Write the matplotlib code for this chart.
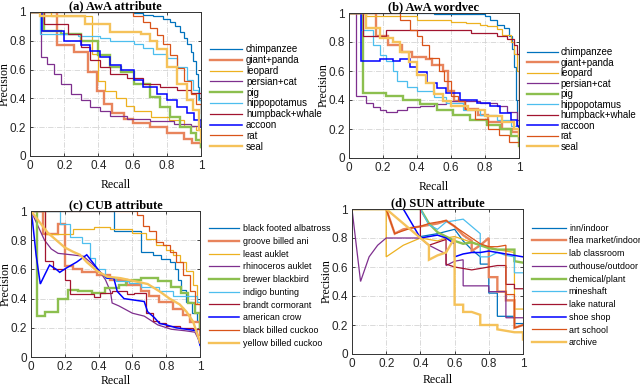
import matplotlib
matplotlib.use("Agg")
import matplotlib.pyplot as plt

plt.rcParams['font.family'] = ['Liberation Sans', 'DejaVu Sans']

# colours (matlab default order, some drawn lighter/thicker)
colors = ['#0072BD', '#E8845C', '#EDB120', '#7E2F8E', '#8CBF4F',
          '#4DBEEE', '#A2142F', '#0000FF', '#D95319', '#F5C25A']
widths = [0.9, 1.7, 0.9, 0.9, 1.7, 0.9, 0.9, 1.1, 0.9, 1.7]

# ---- (a) AwA attribute
a_labels = ['chimpanzee', 'giant+panda', 'leopard', 'persian+cat', 'pig',
            'hippopotamus', 'humpback+whale', 'accoon', 'rat', 'seal']
a_recall = [
    [0, 0.6, 0.66, 0.72, 0.78, 0.82, 0.85, 0.88, 0.9, 0.92, 0.94, 0.955, 0.97, 0.98, 0.99, 1.0],
    [0, 0.16, 0.26, 0.34, 0.39, 0.43, 0.48, 0.55, 0.6, 0.7, 0.8, 0.9, 0.95, 1.0],
    [0, 0.12, 0.36, 0.4, 0.44, 0.5, 0.56, 0.61, 0.71, 0.81, 0.9, 0.97, 1.0],
    [0, 0.064, 0.1, 0.14, 0.18, 0.24, 0.3, 0.35, 0.41, 0.47, 0.57, 0.7, 0.84, 0.94, 1.0],
    [0, 0.08, 0.18, 0.3, 0.4, 0.47, 0.53, 0.61, 0.7, 0.76, 0.82, 0.88, 0.94, 0.97, 1.0],
    [0, 0.06, 0.28, 0.41, 0.47, 0.61, 0.66, 0.72, 0.8, 0.86, 0.92, 0.955, 0.985, 1.0],
    [0, 0.08, 0.22, 0.3, 0.35, 0.41, 0.47, 0.57, 0.66, 0.76, 0.86, 0.94, 1.0],
    [0, 0.07, 0.2, 0.3, 0.35, 0.41, 0.47, 0.53, 0.61, 0.66, 0.74, 0.8, 0.86, 0.92, 0.96, 1.0],
    [0, 0.6, 0.66, 0.7, 0.74, 0.78, 0.82, 0.86, 0.9, 0.94, 0.97, 1.0],
    [0, 0.06, 0.32, 0.47, 0.65, 0.7, 0.74, 0.8, 0.86, 0.92, 0.955, 0.99, 1.0],
]
a_prec = [
    [1, 0.99, 0.98, 0.97, 0.95, 0.93, 0.9, 0.86, 0.82, 0.78, 0.72, 0.66, 0.57, 0.48, 0.39, 0.2],
    [1, 0.77, 0.72, 0.58, 0.45, 0.36, 0.3, 0.26, 0.23, 0.2, 0.16, 0.12, 0.09, 0.06],
    [1, 0.97, 0.71, 0.52, 0.45, 0.4, 0.35, 0.31, 0.27, 0.25, 0.21, 0.18, 0.13],
    [1, 0.69, 0.64, 0.57, 0.5, 0.43, 0.39, 0.34, 0.31, 0.28, 0.26, 0.245, 0.225, 0.21, 0.2],
    [1, 0.87, 0.85, 0.8, 0.7, 0.62, 0.58, 0.5, 0.41, 0.34, 0.27, 0.2, 0.16, 0.11, 0.06],
    [1, 0.85, 0.83, 0.82, 0.8, 0.78, 0.75, 0.71, 0.68, 0.62, 0.53, 0.46, 0.39, 0.22],
    [1, 0.92, 0.85, 0.76, 0.67, 0.62, 0.57, 0.54, 0.5, 0.48, 0.46, 0.44, 0.39],
    [1, 0.87, 0.8, 0.77, 0.73, 0.69, 0.63, 0.6, 0.53, 0.48, 0.43, 0.39, 0.34, 0.3, 0.25, 0.2],
    [1, 0.97, 0.93, 0.89, 0.84, 0.78, 0.7, 0.61, 0.52, 0.43, 0.36, 0.3],
    [1, 0.97, 0.92, 0.86, 0.85, 0.8, 0.74, 0.62, 0.5, 0.39, 0.32, 0.18, 0.1],
]

# ---- (b) AwA wordvec
b_labels = ['chimpanzee', 'giant+panda', 'leopard', 'persian+cat', 'pig',
            'hippopotamus', 'humpback+whale', 'raccoon', 'rat', 'seal']
b_recall = [
    [0, 0.5, 0.8, 0.83, 0.87, 0.91, 0.94, 0.96, 0.97, 0.98, 0.99, 1.0],
    [0, 0.16, 0.23, 0.31, 0.37, 0.45, 0.49, 0.55, 0.58, 0.62, 0.68, 0.76, 0.82, 0.9, 0.96, 1.0],
    [0, 0.1, 0.4, 0.6, 0.69, 0.77, 0.81, 0.87, 0.9, 0.95, 0.97, 0.99, 1.0],
    [0, 0.04, 0.1, 0.14, 0.18, 0.22, 0.28, 0.34, 0.42, 0.5, 0.57, 0.65, 0.77, 0.87, 0.93, 0.99, 1.0],
    [0, 0.08, 0.22, 0.32, 0.42, 0.52, 0.61, 0.71, 0.81, 0.89, 0.95, 1.0],
    [0, 0.07, 0.14, 0.18, 0.22, 0.26, 0.28, 0.34, 0.4, 0.5, 0.57, 0.67, 0.77, 0.87, 0.95, 1.0],
    [0, 0.08, 0.22, 0.72, 0.87, 0.93, 0.97, 0.99, 1.0],
    [0, 0.07, 0.18, 0.26, 0.3, 0.36, 0.4, 0.46, 0.52, 0.57, 0.65, 0.75, 0.83, 0.89, 0.95, 0.99, 1.0],
    [0, 0.3, 0.36, 0.4, 0.43, 0.47, 0.53, 0.56, 0.6, 0.64, 0.68, 0.74, 0.82, 0.88, 0.94, 1.0],
    [0, 0.1, 0.18, 0.26, 0.3, 0.35, 0.4, 0.45, 0.5, 0.55, 0.6, 0.7, 0.8, 0.9, 0.97, 1.0],
]
b_prec = [
    [1, 0.99, 0.98, 0.95, 0.92, 0.9, 0.84, 0.75, 0.63, 0.4, 0.22, 0.13],
    [1, 0.84, 0.78, 0.73, 0.7, 0.68, 0.64, 0.6, 0.46, 0.39, 0.34, 0.3, 0.25, 0.2, 0.18, 0.14],
    [1, 0.98, 0.95, 0.94, 0.93, 0.92, 0.91, 0.89, 0.85, 0.8, 0.72, 0.6, 0.4],
    [1, 0.43, 0.38, 0.35, 0.33, 0.32, 0.33, 0.35, 0.36, 0.37, 0.39, 0.39, 0.38, 0.36, 0.32, 0.26, 0.15],
    [1, 0.45, 0.43, 0.4, 0.37, 0.33, 0.3, 0.26, 0.23, 0.2, 0.15, 0.08],
    [1, 0.88, 0.78, 0.71, 0.67, 0.6, 0.53, 0.49, 0.46, 0.42, 0.38, 0.33, 0.3, 0.26, 0.22, 0.17],
    [1, 0.84, 0.88, 0.86, 0.84, 0.82, 0.78, 0.72, 0.17],
    [1, 0.67, 0.68, 0.67, 0.68, 0.63, 0.59, 0.52, 0.48, 0.45, 0.4, 0.38, 0.36, 0.31, 0.26, 0.22, 0.17],
    [1, 0.95, 0.88, 0.84, 0.78, 0.69, 0.6, 0.53, 0.43, 0.39, 0.34, 0.27, 0.2, 0.16, 0.11, 0.07],
    [1, 0.9, 0.83, 0.8, 0.73, 0.66, 0.57, 0.52, 0.44, 0.39, 0.36, 0.33, 0.29, 0.25, 0.2, 0.15],
]

# ---- (c) CUB attribute
c_labels = ['black footed albatross', 'groove billed ani', 'least auklet',
            'rhinoceros auklet', 'brewer blackbird', 'indigo bunting',
            'brandt cormorant', 'american crow', 'black billed cuckoo',
            'yellow billed cuckoo']
c_recall = [
    [0, 0.49, 0.62, 0.65, 0.72, 0.77, 0.82, 0.85, 0.87, 0.89, 0.92, 0.95, 0.98, 1.0],
    [0, 0.07, 0.16, 0.2, 0.25, 0.3, 0.39, 0.47, 0.57, 0.65, 0.7, 0.76, 0.84, 0.9, 0.94, 1.0],
    [0, 0.08, 0.25, 0.37, 0.47, 0.6, 0.68, 0.74, 0.8, 0.84, 0.88, 0.92, 0.96, 0.98, 1.0],
    [0, 0.04, 0.08, 0.12, 0.16, 0.24, 0.31, 0.36, 0.41, 0.44, 0.47, 0.48, 0.52, 0.6, 0.67, 0.75, 0.83, 0.91, 0.97, 1.0],
    [0, 0.035, 0.08, 0.16, 0.22, 0.28, 0.36, 0.44, 0.52, 0.56, 0.6, 0.65, 0.75, 0.83, 0.89, 0.93, 0.97, 1.0],
    [0, 0.17, 0.23, 0.3, 0.35, 0.38, 0.44, 0.5, 0.58, 0.65, 0.76, 0.84, 0.92, 0.98, 1.0],
    [0, 0.08, 0.13, 0.2, 0.23, 0.37, 0.41, 0.48, 0.57, 0.61, 0.68, 0.72, 0.76, 0.8, 0.88, 0.96, 1.0],
    [0, 0.01, 0.03, 0.055, 0.08, 0.11, 0.15, 0.17, 0.21, 0.27, 0.33, 0.37, 0.41, 0.45, 0.49, 0.51, 0.55,
     0.61, 0.67, 0.69, 0.73, 0.76, 0.8, 0.86, 0.92, 0.98, 1.0],
    [0, 0.63, 0.66, 0.7, 0.74, 0.78, 0.82, 0.86, 0.9, 0.94, 0.97, 1.0],
    [0, 0.1, 0.2, 0.25, 0.29, 0.33, 0.39, 0.45, 0.53, 0.61, 0.69, 0.76, 0.82, 0.88, 0.92, 0.96, 1.0],
]
c_prec = [
    [1, 0.86, 0.86, 0.72, 0.7, 0.67, 0.65, 0.6, 0.53, 0.46, 0.38, 0.3, 0.25, 0.07],
    [1, 0.84, 0.91, 0.62, 0.6, 0.58, 0.56, 0.53, 0.49, 0.45, 0.42, 0.38, 0.33, 0.29, 0.24, 0.15],
    [1, 0.84, 0.88, 0.89, 0.88, 0.85, 0.81, 0.77, 0.73, 0.7, 0.65, 0.59, 0.49, 0.36, 0.1],
    [1, 0.9, 0.8, 0.74, 0.71, 0.7, 0.69, 0.64, 0.58, 0.53, 0.45, 0.37, 0.35, 0.3, 0.28, 0.22, 0.19, 0.18, 0.17, 0.1],
    [1, 0.28, 0.31, 0.4, 0.46, 0.45, 0.44, 0.47, 0.49, 0.52, 0.53, 0.54, 0.52, 0.48, 0.44, 0.37, 0.3, 0.19],
    [1, 0.91, 0.82, 0.78, 0.68, 0.6, 0.54, 0.52, 0.51, 0.48, 0.45, 0.42, 0.42, 0.38, 0.3],
    [1, 0.66, 0.6, 0.53, 0.43, 0.41, 0.44, 0.45, 0.43, 0.44, 0.3, 0.25, 0.23, 0.21, 0.2, 0.19, 0.17],
    [1, 0.92, 0.7, 0.5, 0.56, 0.63, 0.6, 0.58, 0.61, 0.65, 0.7, 0.64, 0.58, 0.54, 0.54, 0.45, 0.4,
     0.39, 0.38, 0.31, 0.27, 0.23, 0.22, 0.2, 0.19, 0.18, 0.08],
    [1, 0.97, 0.9, 0.86, 0.79, 0.77, 0.72, 0.65, 0.56, 0.45, 0.36, 0.2],
    [1, 0.85, 0.75, 0.72, 0.7, 0.65, 0.59, 0.55, 0.54, 0.52, 0.5, 0.45, 0.4, 0.36, 0.31, 0.24, 0.1],
]

# ---- (d) SUN attribute
d_labels = ['inn/indoor', 'flea market/indoor', 'lab classroom',
            'outhouse/outdoor', 'chemical/plant', 'mineshaft',
            'lake natural', 'shoe shop', 'art school', 'archive']
d_recall = [
    [0.4, 0.5, 0.6, 0.65, 0.7, 0.75, 0.75, 0.8, 0.8, 0.85, 0.85, 0.95, 0.95, 1.0],
    [0, 0.2, 0.25, 0.3, 0.4, 0.45, 0.5, 0.55, 0.6, 0.65, 0.7, 0.7, 0.75, 0.8, 0.8, 0.85, 0.85, 0.9, 0.9,
     0.95, 0.95, 1.0],
    [0, 0.2, 0.2, 0.3, 0.4, 0.5, 0.55, 0.6, 0.65, 0.7, 0.75, 0.8, 0.85, 0.9, 0.95, 0.95, 1.0],
    [0, 0.05, 0.1, 0.15, 0.2, 0.3, 0.4, 0.45, 0.5, 0.55, 0.55, 0.6, 0.65, 0.65, 0.7, 0.75, 0.8, 0.8,
     0.85, 0.9, 0.9, 0.95, 1.0],
    [0, 0.4, 0.45, 0.5, 0.55, 0.6, 0.65, 0.7, 0.75, 0.8, 0.85, 0.9, 0.95, 0.95, 1.0],
    [0, 0.4, 0.45, 0.5, 0.55, 0.6, 0.65, 0.7, 0.75, 0.75, 0.8, 0.85, 0.9, 0.95, 0.95, 1.0],
    [0, 0.3, 0.4, 0.4, 0.45, 0.5, 0.55, 0.55, 0.6, 0.65, 0.7, 0.75, 0.8, 0.85, 0.9, 0.9, 0.95, 0.95, 1.0],
    [0, 0.2, 0.3, 0.35, 0.4, 0.45, 0.5, 0.55, 0.6, 0.6, 0.65, 0.7, 0.75, 0.8, 0.85, 0.9, 0.95, 1.0],
    [0, 0.2, 0.25, 0.3, 0.35, 0.4, 0.45, 0.5, 0.55, 0.6, 0.65, 0.7, 0.75, 0.8, 0.85, 0.9, 0.9, 0.95,
     0.95, 1.0],
    [0, 0.2, 0.4, 0.45, 0.45, 0.5, 0.55, 0.6, 0.6, 0.65, 0.65, 0.7, 0.75, 0.75, 0.8, 0.85, 0.85, 0.9,
     0.95, 1.0, 1.0],
]
d_prec = [
    [0.81, 0.83, 0.86, 0.78, 0.72, 0.67, 0.62, 0.62, 0.42, 0.42, 0.26, 0.26, 0.21, 0.21],
    [1, 1, 0.83, 0.86, 0.88, 0.89, 0.9, 0.92, 0.88, 0.82, 0.78, 0.71, 0.75, 0.8, 0.53, 0.53, 0.43, 0.43,
     0.37, 0.37, 0.18, 0.2],
    [1, 1, 0.67, 0.75, 0.8, 0.78, 0.8, 0.81, 0.79, 0.77, 0.75, 0.74, 0.72, 0.71, 0.7, 0.31, 0.31],
    [1, 0.5, 0.67, 0.75, 0.8, 0.8, 0.8, 0.75, 0.72, 0.69, 0.61, 0.64, 0.65, 0.47, 0.47, 0.47, 0.47, 0.43,
     0.43, 0.43, 0.25, 0.25, 0.25],
    [1, 1, 0.9, 0.84, 0.81, 0.78, 0.76, 0.77, 0.75, 0.73, 0.72, 0.72, 0.72, 0.64, 0.63],
    [1, 1, 0.89, 0.86, 0.91, 0.92, 0.93, 0.88, 0.83, 0.67, 0.67, 0.7, 0.68, 0.67, 0.56, 0.56],
    [1, 1, 1, 0.8, 0.75, 0.77, 0.79, 0.62, 0.6, 0.59, 0.58, 0.59, 0.6, 0.61, 0.61, 0.48, 0.48, 0.45, 0.45],
    [1, 1, 1, 0.9, 0.8, 0.81, 0.82, 0.8, 0.76, 0.67, 0.69, 0.7, 0.7, 0.71, 0.7, 0.69, 0.68, 0.67],
    [1, 1, 0.83, 0.85, 0.87, 0.88, 0.9, 0.91, 0.92, 0.88, 0.84, 0.8, 0.76, 0.74, 0.74, 0.75, 0.41, 0.41,
     0.18, 0.2],
    [1, 1, 0.8, 0.75, 0.65, 0.68, 0.7, 0.8, 0.34, 0.34, 0.29, 0.29, 0.27, 0.2, 0.2, 0.2, 0.17, 0.16,
     0.15, 0.15, 0.1],
]

# which curves are drawn as staircases
c_steps = [True, True, True, False, True, True, True, False, True, False]

ticks = [0, 0.2, 0.4, 0.6, 0.8, 1.0]
tick_labels = ['0', '0.2', '0.4', '0.6', '0.8', '1']


def draw_panel(ax, title, labels, recall, prec, steps, leg_xy, fs, hl, htp, lsp, xpad):
    for i in range(len(labels)):
        ds = 'steps-post' if steps[i] else 'default'
        ax.plot(recall[i], prec[i], color=colors[i], lw=widths[i],
                drawstyle=ds, label=labels[i], solid_joinstyle='miter')
    ax.set_xlim(0, 1)
    ax.set_ylim(0, 1)
    ax.set_xticks(ticks)
    ax.set_xticklabels(tick_labels)
    ax.set_yticks(ticks)
    ax.set_yticklabels(tick_labels)
    ax.tick_params(direction='in', length=2.5, width=0.6, labelsize=8.5,
                   top=True, right=True, pad=3, colors='#262626')
    ax.grid(True, ls='-.', color='#d4d4d4', lw=0.6)
    ax.set_axisbelow(True)
    for s in ax.spines.values():
        s.set_color('#333333')
        s.set_linewidth(0.7)
    ax.set_title(title, fontsize=9, fontweight='bold', family='Liberation Serif', pad=2)
    ax.set_xlabel('Recall', fontsize=8.5, family='Liberation Serif', labelpad=xpad)
    ax.set_ylabel('Precision', fontsize=8.5, family='Liberation Serif', labelpad=-1)
    ax.legend(loc='center left', bbox_to_anchor=leg_xy, bbox_transform=fig.transFigure,
              frameon=False, fontsize=fs, handlelength=hl, handletextpad=htp,
              labelspacing=lsp, borderpad=0, borderaxespad=0)


fig = plt.figure(figsize=(6.4, 3.89), dpi=100)

ax1 = fig.add_axes([30 / 640, 1 - 156 / 389, 171 / 640, 144 / 389])
ax2 = fig.add_axes([349 / 640, 1 - 158 / 389, 170 / 640, 145 / 389])
ax3 = fig.add_axes([31 / 640, 1 - 357 / 389, 169 / 640, 146 / 389])
ax4 = fig.add_axes([352 / 640, 1 - 354 / 389, 171 / 640, 145 / 389])

draw_panel(ax1, '(a) AwA attribute', a_labels, a_recall, a_prec, [True] * 10,
           (210 / 640, 1 - 98 / 389), 7, 3.3, 0.4, 0.08, 5)
draw_panel(ax2, '(b) AwA wordvec', b_labels, b_recall, b_prec, [True] * 10,
           (527 / 640, 1 - 99.5 / 389), 7, 3.2, 0.25, 0.05, 5)
draw_panel(ax3, '(c) CUB attribute', c_labels, c_recall, c_prec, c_steps,
           (209 / 640, 1 - 286 / 389), 6.4, 3.4, 0.45, 0.42, 1.5)
draw_panel(ax4, '(d) SUN attribute', d_labels, d_recall, d_prec, [False] * 10,
           (532 / 640, 1 - 285.5 / 389), 6.4, 3.8, 0.35, 0.42, 3)

fig.savefig('out.png', dpi=100)
